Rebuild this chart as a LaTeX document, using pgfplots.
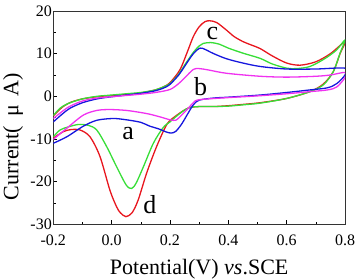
\documentclass[border=0pt]{standalone}
\usepackage{pgfplots}
\pgfplotsset{compat=1.18}
\usepackage{fontspec}
\setmainfont{Liberation Serif}
\definecolor{cvred}{RGB}{232,22,30}
\definecolor{cvgreen}{RGB}{55,222,55}
\definecolor{cvblue}{RGB}{22,22,222}
\definecolor{cvmag}{RGB}{240,50,240}
\begin{document}
\begin{tikzpicture}
\begin{axis}[
  scale only axis,
  width=291.7pt, height=213.3pt,
  xmin=-0.2, xmax=0.8, ymin=-30, ymax=20,
  xtick={-0.2,0,0.2,0.4,0.6,0.8},
  xticklabels={-0.2,0.0,0.2,0.4,0.6,0.8},
  ytick={-30,-20,-10,0,10,20},
  minor x tick num=1, minor y tick num=1,
  xtick pos=bottom, ytick pos=left,
  tick align=inside,
  major tick length=4pt, minor tick length=2.5pt,
  tick style={black, line width=0.6pt},
  axis line style={black!80, line width=0.8pt},
  /pgf/number format/assume math mode=true,
  ticklabel style={font=\fontsize{16}{16}\selectfont},
  xticklabel style={yshift=-7.5pt},
  yticklabel style={xshift=2pt},
  xlabel={Potential(V) \textit{vs}.SCE},
  ylabel={Current(\hspace{0.4em}μ\hspace{0.4em}A)},
  label style={font=\fontsize{22}{22}\selectfont},
  xlabel style={at={(axis description cs:0.5,-0.2340)}, anchor=base},
  ylabel style={at={(axis description cs:-0.12,0.4107)}, anchor=base},
  clip=true,
  every axis plot/.append style={line width=1.3pt, smooth, no markers},
]
\coordinate (SW) at (rel axis cs:0,0);
\coordinate (NE) at (rel axis cs:1,1);
% red (d)
\addplot[cvred] coordinates {
(-0.2,-4.6) (-0.17,-2.6) (-0.14,-1.4) (-0.1,-0.6) (-0.05,-0.1) (0,0.2) (0.05,0.45) (0.1,0.8) (0.15,1.5) (0.18,2.3) (0.2,3.2) (0.234,6.2) (0.26,10.5) (0.28,14) (0.3,16.3) (0.32,17.5) (0.337,17.7) (0.36,17.3) (0.394,15.5) (0.42,14) (0.451,12.8) (0.48,12) (0.509,11.2) (0.55,9.5) (0.6,7.8) (0.646,7.3) (0.7,8.1) (0.75,10) (0.8,12.8)
(0.783,10) (0.76,5.8) (0.726,2.9) (0.68,1.1) (0.6,-0.5) (0.509,-1.5) (0.45,-1.9) (0.4,-2.2) (0.35,-2.4) (0.3,-2.4) (0.27,-2.6) (0.25,-3.2) (0.22,-4.6) (0.19,-6.5) (0.154,-11.8) (0.12,-18) (0.091,-24.3) (0.07,-27.3) (0.049,-28.2) (0.03,-27.3) (0.017,-25.9) (-0.006,-22) (-0.04,-14.1) (-0.074,-9.5) (-0.108,-7.9) (-0.14,-7.8) (-0.166,-8.3) (-0.2,-9.8)
};
% green (c)
\addplot[cvgreen] coordinates {
(-0.2,-4.5) (-0.177,-2.8) (-0.15,-1.7) (-0.1,-0.6) (-0.05,0) (0,0.3) (0.05,0.6) (0.1,0.9) (0.15,1.5) (0.18,2.3) (0.2,3.0) (0.23,5.2) (0.25,7.3) (0.28,10.3) (0.3,11.8) (0.314,12.4) (0.34,12.6) (0.37,12.2) (0.4,11.3) (0.451,10.1) (0.509,8.9) (0.55,7.6) (0.6,6.6) (0.634,6.5) (0.68,7.0) (0.73,8.8) (0.77,10.8) (0.8,13.2)
(0.783,10.1) (0.76,5.8) (0.726,2.7) (0.68,1.1) (0.6,-0.5) (0.509,-1.6) (0.45,-2.0) (0.4,-2.3) (0.35,-2.4) (0.3,-2.4) (0.27,-2.6) (0.25,-3.2) (0.22,-4.8) (0.2,-6.0) (0.177,-7.3) (0.143,-11) (0.109,-16.5) (0.085,-20.2) (0.069,-21.6) (0.05,-20.8) (0.017,-16.5) (-0.017,-11.8) (-0.051,-7.9) (-0.08,-6.8) (-0.114,-6.6) (-0.15,-7.2) (-0.177,-7.9) (-0.2,-9.5)
};
% blue (a)
\addplot[cvblue] coordinates {
(-0.2,-6) (-0.17,-4.2) (-0.143,-2.8) (-0.1,-1.5) (-0.05,-0.6) (0,-0.1) (0.05,0.3) (0.1,0.7) (0.15,1.3) (0.18,2.0) (0.2,2.8) (0.23,5) (0.25,7) (0.28,10) (0.303,11.3) (0.32,11.0) (0.35,10.0) (0.394,8.8) (0.45,7.8) (0.509,7.0) (0.6,6.4) (0.7,6.4) (0.8,6.6)
(0.8,5) (0.772,3.0) (0.74,2.0) (0.68,1.5) (0.6,0.9) (0.509,0.3) (0.4,-0.2) (0.35,-0.4) (0.3,-0.9) (0.28,-2) (0.26,-4.2) (0.24,-6.5) (0.22,-8.2) (0.205,-8.6) (0.189,-8.4) (0.16,-7.6) (0.131,-7.0) (0.1,-6.1) (0.05,-5.5) (0.006,-5.2) (-0.05,-5.6) (-0.097,-7.0) (-0.154,-9.5) (-0.2,-11)
};
% magenta (b)
\addplot[cvmag] coordinates {
(-0.2,-5.2) (-0.15,-2.6) (-0.1,-1.1) (-0.05,-0.4) (0,-0.1) (0.05,0.2) (0.1,0.5) (0.15,0.9) (0.2,1.6) (0.23,3) (0.25,4.3) (0.28,6.3) (0.3,6.5) (0.33,6.2) (0.394,5.4) (0.509,4.7) (0.6,4.5) (0.7,4.7) (0.75,5.0) (0.8,5.6)
(0.8,4.4) (0.772,2.2) (0.74,1.5) (0.68,1.1) (0.6,0.6) (0.5,0.1) (0.4,-0.3) (0.3,-0.8) (0.28,-1.5) (0.26,-3) (0.24,-4.4) (0.22,-5.6) (0.2,-5.5) (0.17,-4.9) (0.131,-4.2) (0.1,-3.8) (0.05,-3.3) (-0.006,-3.1) (-0.05,-3.3) (-0.097,-4.4) (-0.154,-7.5) (-0.2,-10.1)
};
\node[font=\fontsize{26}{26}\selectfont, inner sep=0pt] at (axis cs:0.057,-8.7) {a};
\node[font=\fontsize{26}{26}\selectfont, inner sep=0pt] at (axis cs:0.305,2.3) {b};
\node[font=\fontsize{26}{26}\selectfont, inner sep=0pt] at (axis cs:0.345,14.8) {c};
\node[font=\fontsize{26}{26}\selectfont, inner sep=0pt] at (axis cs:0.131,-25.5) {d};
\end{axis}
\pgfresetboundingbox
\path[use as bounding box] ([shift={(-53.3pt,-55.7pt)}]SW) rectangle ([shift={(13pt,11pt)}]NE);
\end{tikzpicture}
\end{document}
